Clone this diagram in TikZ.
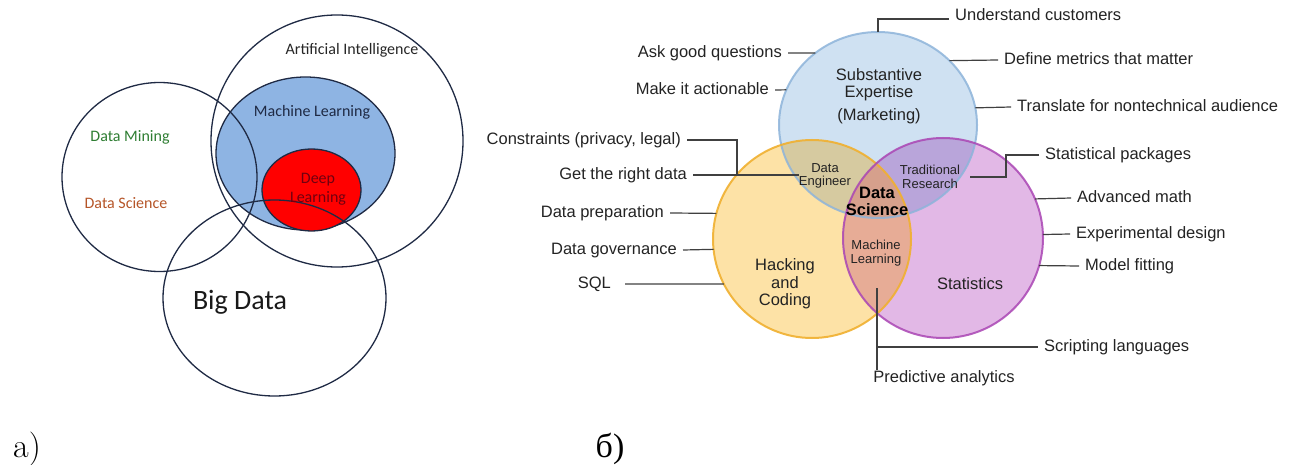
\documentclass[tikz,border=0pt]{standalone}
\usepackage{fontspec}
\usepackage{tikz}
\usetikzlibrary{shapes.geometric,positioning,calc}
\newfontfamily\arialf{Liberation Sans}
\newfontfamily\calibf{Carlito}
\newfontfamily\cyrf{Liberation Serif}

\definecolor{ringcol}{RGB}{31,42,68}
\definecolor{mlblue}{RGB}{142,180,227}
\definecolor{dmgreen}{RGB}{46,125,50}
\definecolor{dsbrown}{RGB}{181,85,40}
\definecolor{dlred}{RGB}{112,0,16}
\definecolor{expfill}{RGB}{207,225,242}
\definecolor{expedge}{RGB}{142,180,218}
\definecolor{hackfill}{RGB}{253,226,166}
\definecolor{hackedge}{RGB}{240,176,48}
\definecolor{statfill}{RGB}{226,184,230}
\definecolor{statedge}{RGB}{170,70,180}
\definecolor{engfill}{RGB}{214,202,160}
\definecolor{resfill}{RGB}{185,165,218}
\definecolor{learnfill}{RGB}{231,172,150}
\definecolor{scifill}{RGB}{214,160,140}
\definecolor{linecol}{RGB}{64,64,64}
\definecolor{lblcol}{RGB}{35,35,35}

% circles of the right-hand venn, used for fills, clips and edges
\newcommand{\expertpath}{(878,125) ellipse [x radius=99pt, y radius=93pt]}
\newcommand{\hackpath}{(812,239) circle [radius=99pt]}
\newcommand{\statpath}{(943,238) circle [radius=100pt]}

\begin{document}
\begin{tikzpicture}[x=1pt, y=-1pt]
	\tikzstyle{oval} = [ellipse, draw=ringcol, line width=1.3pt, inner sep=0pt]
	\tikzstyle{caltext} = [font=\calibf\fontsize{16}{19}\selectfont, inner sep=0pt, align=center]
	\tikzstyle{lbl} = [font=\arialf\fontsize{16.5}{18}\selectfont, text=lblcol, inner xsep=6pt, inner ysep=0pt, text height=12pt, text depth=3.5pt]
	\tikzstyle{inlbl} = [font=\arialf\fontsize{16.5}{17.5}\selectfont, text=lblcol, inner sep=0pt, align=center]
	\tikzstyle{smlbl} = [font=\arialf\fontsize{13}{13.5}\selectfont, text=lblcol, inner sep=0pt, align=center]
	\tikzstyle{anchorshape} = [inner sep=0pt, outer sep=0pt]
	\tikzstyle{leader} = [draw=linecol, line width=1.2pt]
	\useasboundingbox (0,0) rectangle (1295,465);

	% a)
	\node (ai)[oval, minimum width=252pt, minimum height=252pt] at (337,141) {};
	\node (ml)[oval, fill=mlblue, minimum width=179pt, minimum height=153pt] at (305.5,153.5) {};
	\node (dl)[oval, fill=red, minimum width=99pt, minimum height=82pt] at (311.5,190) {};
	\node (dm)[oval, minimum width=195pt, minimum height=189pt] at (159.5,177) {};
	\node (bd)[oval, minimum width=223pt, minimum height=196pt] at (274.5,298) {};
	\node (aitext)[caltext, text=black!85] at (352,50) {Artificial Intelligence};
	\node (mltext)[caltext, text=ringcol] at (312,112) {Machine Learning};
	\node (dltext)[caltext, text=dlred] at (318,189) {Deep\\Learning};
	\node (dmtext)[caltext, text=dmgreen] at (130,137) {Data Mining};
	\node (dstext)[caltext, text=dsbrown] at (126,203) {Data Science};
	\node (bdtext)[caltext, font=\calibf\fontsize{28}{30}\selectfont, text=black!90] at (240,302) {Big Data};
	\node (capa)[font=\fontsize{34}{36}\selectfont, inner sep=0pt] at (27,449) {a)};

	% b)
	\node (expert)[ellipse, anchorshape, fill=expfill, minimum width=198pt, minimum height=186pt] at (878,125) {};
	\node (hack)[circle, anchorshape, fill=hackfill, minimum size=198pt] at (812,239) {};
	\node (stat)[circle, anchorshape, fill=statfill, minimum size=200pt] at (943,238) {};
	\begin{scope}
		\clip \expertpath;
		\fill[engfill] \hackpath;
		\fill[resfill] \statpath;
	\end{scope}
	\begin{scope}
		\clip \hackpath;
		\fill[learnfill] \statpath;
		\clip \statpath;
		\fill[scifill] \expertpath;
	\end{scope}
	\draw[expedge, line width=2pt, opacity=0.85] \expertpath;
	\draw[hackedge, line width=2pt, opacity=0.9] \hackpath;
	\draw[statedge, line width=2pt, opacity=0.85] \statpath;

	\node (exptext)[inlbl] at (879,96) {Substantive\\Expertise\\[5pt](Marketing)};
	\node (hacktext)[inlbl] at (785,284) {Hacking\\and\\Coding};
	\node (stattext)[inlbl] at (970,284) {Statistics};
	\node (dataeng)[smlbl] at (825,176) {Data\\Engineer};
	\node (tradres)[smlbl] at (930,177) {Traditional\\Research};
	\node (dsci)[inlbl, font=\arialf\bfseries\fontsize{16.5}{17}\selectfont, text=black] at (877,201) {Data\\Science};
	\node (mlearn)[smlbl] at (876,253) {Machine\\Learning};

	% labels on the left
	\node (askq)[lbl, anchor=east] at (788,53) {Ask good questions};
	\node (actn)[lbl, anchor=east] at (775,90) {Make it actionable};
	\node (constr)[lbl, anchor=east] at (687,140) {Constraints (privacy, legal)};
	\node (getdata)[lbl, anchor=east] at (693,175) {Get the right data};
	\node (dprep)[lbl, anchor=east] at (670,213) {Data preparation};
	\node (dgov)[lbl, anchor=east] at (683,250) {Data governance};
	\node (sql)[lbl, anchor=east] at (617,284) {SQL};
	% labels on the right
	\node (underst)[lbl, anchor=west] at (949,16) {Understand customers};
	\node (metrics)[lbl, anchor=west] at (998,60) {Define metrics that matter};
	\node (transl)[lbl, anchor=west] at (1011,107) {Translate for nontechnical audience};
	\node (statpk)[lbl, anchor=west] at (1039,155) {Statistical packages};
	\node (advm)[lbl, anchor=west] at (1071,198) {Advanced math};
	\node (expd)[lbl, anchor=west] at (1070,234) {Experimental design};
	\node (modfit)[lbl, anchor=west] at (1079,266) {Model fitting};
	\node (scriptl)[lbl, anchor=west] at (1038,347) {Scripting languages};
	\node (predan)[lbl] at (944,378) {Predictive analytics};
	\node (capb)[font=\cyrf\fontsize{34}{36}\selectfont, inner sep=0pt] at (610,449) {б)};

	\coordinate (dejoin) at (737,175);
	\coordinate (trjoin) at (1006,177);
	\coordinate (mltail) at (877,288);

	\draw[leader] (askq.east) -- (expert.131);
	\draw[leader] (actn.east) -- (expert.159);
	\draw[leader] (constr.east) -| (dejoin);
	\draw[leader] (getdata.east) -- (getdata -| dataeng.west);
	\draw[leader] (dprep.east) -- (hack.165);
	\draw[leader] (dgov.east) -- (hack.186);
	\draw[leader, shorten <=8pt] (sql.east) -- (hack.207);
	\draw[leader] (expert.north) |- ([yshift=-3pt]underst.west);
	\draw[leader] (expert.42.5) -- (metrics.west);
	\draw[leader] (expert.10.5) -- (transl.west);
	\draw[leader] (statpk.west) -| (trjoin) -- ([xshift=10pt]trjoin -| tradres.east);
	\draw[leader] (stat.23.6) -- (advm.west);
	\draw[leader] (stat.2.3) -- (expd.west);
	\draw[leader] (stat.-16.3) -- (modfit.west);
	\draw[leader] (mltail) -- (mltail |- predan.north);
	\draw[leader] (mltail |- scriptl) -- (scriptl.west);
\end{tikzpicture}
\end{document}
